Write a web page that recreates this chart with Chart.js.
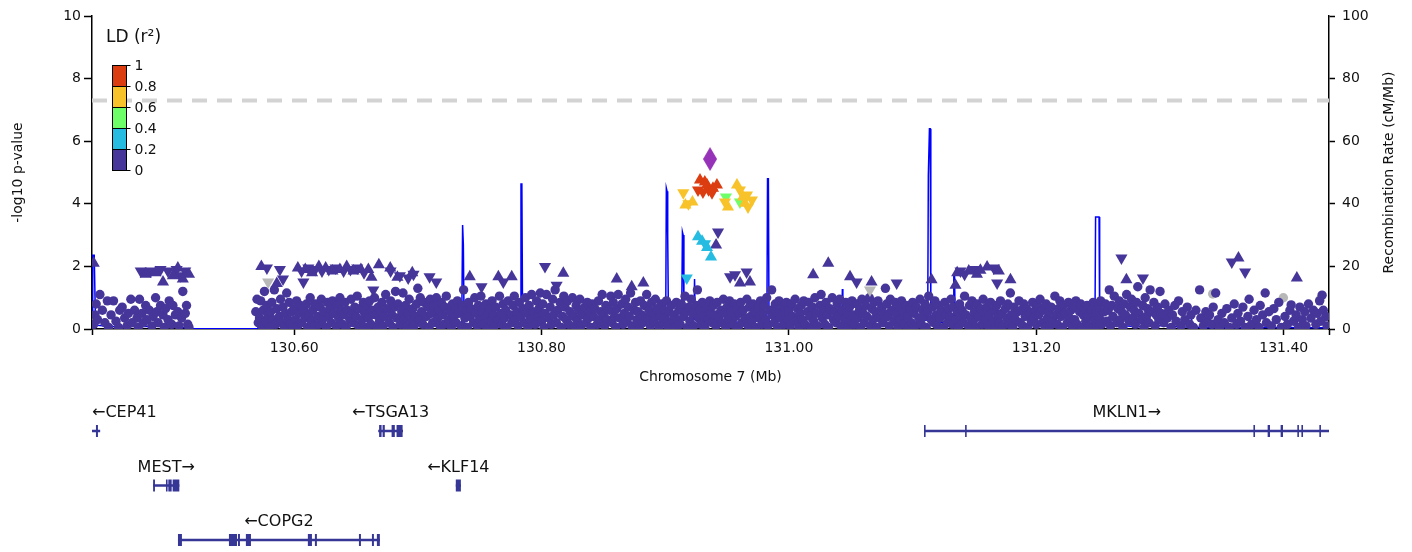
<!DOCTYPE html>
<html>
<head>
<meta charset="utf-8">
<script src="https://cdn.jsdelivr.net/npm/chart.js@4.4.1/dist/chart.umd.min.js"></script>
<style>
  body { margin: 0; background: #fff; }
</style>
</head>
<body>
<canvas id="graficaLocus" width="1412" height="552"></canvas>
<script>
var colorLd = ['#463699', '#26bce1', '#6efe68', '#f8c32a', '#db3d11'];
var colorLead = '#9632b8';
var colorNoLd = '#b8b8b8';
var colorGene = '#363696';
var colorText = '#111';

var xMin = 130.4366;
var xMax = 131.4366;
var xTickValues = [130.60, 130.80, 131.00, 131.20, 131.40];
var ldBreaks = [0, 0.2, 0.4, 0.6, 0.8, 1];
var sigLine = 7.301;

// recombination rate (cM/Mb)
var recombPos = [
  130.4366, 130.4372, 130.4384, 130.4394, 130.4410, 130.4500, 130.4600, 130.4700, 130.4800, 130.4900,
  130.5000, 130.5100, 130.5145, 130.5155, 130.5700, 130.5720, 130.5800, 130.5900, 130.6000, 130.6100,
  130.6200, 130.6300, 130.6400, 130.6500, 130.6600, 130.6700, 130.6800, 130.6900, 130.7000, 130.7100,
  130.7200, 130.7300, 130.7355, 130.7362, 130.7368, 130.7374, 130.7500, 130.7600, 130.7700, 130.7780,
  130.7829, 130.7834, 130.7841, 130.7847, 130.7900, 130.8000, 130.8100, 130.8200, 130.8300, 130.8400,
  130.8500, 130.8600, 130.8700, 130.8800, 130.8900, 130.8990, 130.9004, 130.9009, 130.9015, 130.9020,
  130.9026, 130.9060, 130.9100, 130.9133, 130.9139, 130.9145, 130.9151, 130.9200, 130.9232, 130.9237,
  130.9243, 130.9300, 130.9400, 130.9500, 130.9600, 130.9700, 130.9790, 130.9822, 130.9827, 130.9834,
  130.9839, 130.9900, 131.0000, 131.0100, 131.0200, 131.0300, 131.0400, 131.0428, 131.0432, 131.0436,
  131.0500, 131.0600, 131.0700, 131.0800, 131.0900, 131.0995, 131.1010, 131.1080, 131.1122, 131.1127,
  131.1132, 131.1136, 131.1142, 131.1147, 131.1200, 131.1300, 131.1328, 131.1333, 131.1339, 131.1344,
  131.1400, 131.1500, 131.1600, 131.1700, 131.1800, 131.1900, 131.2000, 131.2070, 131.2076, 131.2082,
  131.2150, 131.2265, 131.2270, 131.2275, 131.2350, 131.2450, 131.2474, 131.2479, 131.2507, 131.2512,
  131.2560, 131.2596, 131.2600, 131.2604, 131.2700, 131.2800, 131.2900, 131.3000, 131.3100, 131.3200,
  131.3251, 131.3255, 131.3259, 131.3400, 131.3600, 131.3800, 131.3868, 131.3872, 131.3876, 131.4000,
  131.4200, 131.4366
];
var recombRate = [
  5, 23.6, 23.6, 2.5, 1.2, 0.9, 0.7, 1.0, 0.8, 1.1,
  0.7, 0.5, 0.4, 0.05, 0.05, 0.8, 1.3, 1.0, 1.2, 0.9,
  1.1, 1.3, 0.9, 1.0, 0.8, 1.1, 0.9, 1.2, 1.0, 0.8,
  1.1, 0.9, 1.5, 33.2, 27, 1.8, 1.2, 1.0, 1.3, 1.1,
  2, 46.3, 46.3, 2, 1.1, 1.3, 1.0, 1.4, 1.2, 1.6,
  1.3, 1.5, 1.8, 1.6, 2.0, 2.2, 3, 45, 44, 30,
  3, 2.5, 2.8, 3, 31, 30, 4, 3, 3, 16,
  3, 2.5, 2.2, 2.0, 2.2, 2.4, 2.6, 3, 48, 48,
  2.5, 1.8, 1.5, 1.2, 1.0, 1.3, 1.6, 1.2, 12.8, 1.2,
  1.4, 1.6, 1.3, 1.8, 2.0, 2.2, 0.8, 2.5, 3, 49,
  49, 64, 64, 3, 2.2, 2.0, 2.2, 17, 17, 2.2,
  1.8, 1.5, 1.2, 1.0, 1.3, 1.1, 1.4, 1.2, 3.5, 1.2,
  1.0, 1.0, 1.8, 1.0, 1.2, 1.5, 2, 35.8, 35.8, 2,
  1.5, 1.2, 5.5, 1.2, 1.0, 0.8, 0.9, 1.1, 0.8, 0.6,
  0.8, 3.5, 0.6, 0.4, 0.4, 0.5, 0.5, 1.2, 0.5, 0.5,
  0.4, 0.4
];

// [position Mb, -log10 p]  r2 < 0.2, circles
var snpCircle = [
  [130.438,0.15],[130.439,0.45],[130.440,0.8],[130.441,0.3],[130.443,1.1],[130.445,0.6],[130.447,0.2],[130.449,0.9],[130.450,0.05],[130.452,0.45],
  [130.454,0.9],[130.456,0.25],[130.458,0.05],[130.459,0.6],[130.461,0.7],[130.463,0.35],[130.465,0.1],[130.466,0.5],[130.468,0.95],[130.469,0.2],
  [130.471,0.6],[130.473,0.35],[130.474,0.05],[130.475,0.95],[130.477,0.5],[130.478,0.2],[130.480,0.75],[130.481,0.3],[130.483,0.6],[130.485,0.1],
  [130.486,0.4],[130.488,1.0],[130.489,0.55],[130.490,0.2],[130.492,0.75],[130.494,0.45],[130.495,0.05],[130.496,0.65],[130.498,0.3],[130.499,0.9],
  [130.501,0.15],[130.502,0.75],[130.504,0.45],[130.506,0.55],[130.507,0.1],[130.509,0.35],[130.510,1.2],[130.512,0.5],[130.513,0.75],[130.514,0.15],
  [130.515,0.05],
  [130.569,0.55],[130.570,0.95],[130.571,0.2],[130.572,0.35],[130.573,0.9],[130.574,0.1],[130.575,0.6],[130.576,1.2],[130.577,0.25],[130.578,0.75],
  [130.579,0.45],[130.580,0.05],[130.581,0.55],[130.582,0.85],[130.583,0.3],[130.584,1.25],[130.585,0.15],[130.586,0.65],[130.588,0.4],[130.589,0.95],
  [130.590,0.2],[130.591,0.7],[130.592,0.05],[130.593,0.5],[130.594,1.15],[130.595,0.3],[130.596,0.85],[130.597,0.15],[130.598,0.55],[130.599,0.05],
  [130.600,0.65],[130.601,0.3],[130.602,0.9],[130.603,0.1],[130.604,0.5],[130.605,0.75],[130.606,0.2],[130.608,0.6],[130.609,0.35],
  [130.610,0.8],[130.611,0.05],[130.612,0.45],[130.613,1.0],[130.614,0.25],[130.615,0.6],[130.616,0.1],[130.617,0.8],[130.619,0.4],
  [130.620,0.15],[130.621,0.7],[130.622,0.95],[130.623,0.3],[130.624,0.55],[130.626,0.05],[130.627,0.85],[130.628,0.4],[130.629,0.65],
  [130.630,0.2],[130.631,0.9],[130.632,0.5],[130.634,0.1],[130.635,0.75],[130.636,0.35],[130.637,1.0],[130.638,0.6],[130.639,0.15],
  [130.640,0.45],[130.641,0.85],[130.642,0.05],[130.643,0.6],[130.645,0.3],[130.646,0.95],[130.647,0.5],[130.648,0.2],[130.649,0.7],
  [130.650,0.4],[130.651,1.05],[130.652,0.1],[130.653,0.65],[130.655,0.3],[130.656,0.85],[130.657,0.5],[130.658,0.05],[130.659,0.75],
  [130.660,0.35],[130.661,0.9],[130.662,0.15],[130.663,0.6],[130.665,1.0],[130.666,0.45],[130.667,0.05],[130.668,0.7],[130.669,0.25],
  [130.670,0.55],[130.671,0.85],[130.672,0.1],[130.673,0.4],[130.674,1.1],[130.675,0.65],[130.677,0.2],[130.678,0.9],[130.679,0.45],
  [130.680,0.05],[130.681,0.7],[130.682,1.2],[130.683,0.35],[130.684,0.8],[130.686,0.15],[130.687,0.55],[130.688,1.15],[130.689,0.3],
  [130.690,0.75],[130.691,0.05],[130.692,0.5],[130.693,0.95],[130.695,0.25],[130.696,0.65],[130.697,0.1],[130.698,0.4],[130.699,0.8],
  [130.700,1.3],[130.701,0.3],[130.702,1.0],[130.703,0.55],[130.704,0.15],[130.705,0.85],[130.707,0.4],[130.708,0.7],[130.709,0.05],
  [130.710,0.95],[130.711,0.5],[130.712,0.2],[130.713,0.75],[130.715,1.0],[130.716,0.35],[130.717,0.6],[130.718,0.1],[130.719,0.85],
  [130.720,0.45],[130.721,0.15],[130.722,0.7],[130.723,1.05],[130.725,0.3],[130.726,0.55],[130.727,0.05],[130.728,0.8],[130.729,0.4],
  [130.730,0.65],[130.731,0.2],[130.732,0.9],[130.733,0.5],[130.735,0.1],[130.736,0.75],[130.737,1.25],[130.738,0.35],[130.739,0.6],
  [130.740,0.05],[130.741,0.85],[130.742,0.4],[130.743,0.65],[130.745,0.2],[130.746,1.0],[130.747,0.5],[130.748,0.1],[130.749,0.75],
  [130.750,0.3],[130.751,1.05],[130.752,0.55],[130.753,0.15],[130.755,0.8],[130.756,0.4],[130.757,0.05],[130.758,0.65],[130.759,0.25],
  [130.760,0.9],[130.761,0.45],[130.762,0.1],[130.763,0.7],[130.765,0.3],[130.766,1.05],[130.767,0.5],[130.768,0.15],[130.769,0.8],
  [130.770,0.35],[130.771,0.6],[130.772,0.05],[130.773,0.9],[130.775,0.45],[130.776,0.2],[130.777,0.75],[130.778,1.05],[130.779,0.3],
  [130.780,0.55],[130.781,0.1],[130.782,0.85],[130.783,0.4],[130.785,0.65],[130.786,0.2],[130.787,1.0],[130.788,0.5],[130.789,0.05],
  [130.790,0.75],[130.791,0.3],[130.792,1.1],[130.793,0.55],[130.795,0.15],[130.796,0.9],[130.797,0.4],[130.798,0.65],[130.799,1.15],
  [130.800,0.25],[130.801,0.8],[130.802,0.05],[130.803,0.5],[130.804,1.1],[130.806,0.35],[130.807,0.7],[130.808,0.15],[130.809,0.95],
  [130.810,0.45],[130.811,1.25],[130.812,0.2],[130.813,0.6],[130.815,0.85],[130.816,0.05],[130.817,0.4],[130.818,1.05],[130.819,0.7],
  [130.820,0.3],[130.821,0.9],[130.822,0.15],[130.823,0.55],[130.825,1.0],[130.826,0.4],[130.827,0.05],[130.828,0.75],[130.829,0.25],
  [130.830,0.6],[130.831,0.95],[130.832,0.1],[130.833,0.45],[130.835,0.7],[130.836,0.2],[130.837,0.85],[130.838,0.35],[130.839,0.55],
  [130.840,0.05],[130.841,0.8],[130.842,0.4],[130.843,0.65],[130.845,0.15],[130.846,0.9],[130.847,0.3],[130.848,0.55],[130.849,1.1],
  [130.850,0.45],[130.851,0.1],[130.852,0.75],[130.853,0.3],[130.855,0.6],[130.856,1.05],[130.857,0.2],[130.858,0.85],[130.859,0.4],
  [130.860,0.05],[130.861,0.65],[130.862,1.1],[130.863,0.35],[130.865,0.8],[130.866,0.15],[130.867,0.5],[130.868,0.95],[130.869,0.25],
  [130.870,0.7],[130.871,0.4],[130.872,1.15],[130.873,0.1],[130.875,0.6],[130.876,0.85],[130.877,0.3],[130.878,0.55],[130.879,0.05],
  [130.880,0.9],[130.881,0.45],[130.882,0.2],[130.883,0.75],[130.885,1.1],[130.886,0.35],[130.887,0.6],[130.888,0.1],[130.889,0.85],
  [130.890,0.5],[130.891,0.25],[130.892,0.95],[130.893,0.65],[130.895,0.05],[130.896,0.4],[130.897,0.8],[130.898,0.2],[130.899,0.6],
  [130.900,0.35],[130.901,0.9],[130.902,0.1],[130.903,0.55],[130.905,0.75],[130.906,0.25],[130.907,0.45],[130.908,0.05],[130.909,0.85],
  [130.910,0.3],[130.911,0.6],[130.912,0.15],[130.913,0.8],[130.915,0.4],[130.916,1.05],[130.917,0.55],[130.918,0.05],[130.919,0.7],
  [130.920,0.25],[130.921,0.95],[130.922,0.5],[130.923,0.1],[130.925,0.75],[130.926,1.25],[130.927,0.35],[130.928,0.6],[130.929,0.15],
  [130.930,0.85],[130.931,0.4],[130.932,0.05],[130.933,0.65],[130.935,0.3],[130.936,0.9],[130.937,0.5],[130.938,0.2],[130.939,0.75],
  [130.940,0.45],[130.941,0.1],[130.942,0.85],[130.943,0.35],[130.945,0.6],[130.946,0.2],[130.947,0.95],[130.948,0.5],[130.949,0.05],
  [130.950,0.7],[130.951,0.3],[130.952,0.9],[130.953,0.55],[130.955,0.15],[130.956,0.8],[130.957,0.4],[130.958,0.65],[130.959,0.05],
  [130.960,0.5],[130.961,0.85],[130.962,0.2],[130.963,0.6],[130.965,0.35],[130.966,0.95],[130.967,0.1],[130.968,0.7],[130.969,0.4],
  [130.970,0.25],[130.971,0.8],[130.972,0.55],[130.973,0.05],[130.975,0.65],[130.976,0.35],[130.977,0.9],[130.978,0.15],[130.979,0.5],
  [130.980,0.75],[130.981,0.3],[130.982,1.0],[130.983,0.1],[130.985,0.6],[130.986,1.25],[130.987,0.45],[130.988,0.2],[130.989,0.8],
  [130.990,0.55],[130.991,0.05],[130.992,0.9],[130.993,0.35],[130.995,0.7],[130.996,0.15],[130.997,0.5],[130.998,0.85],[130.999,0.3],
  [131.000,0.6],[131.001,0.1],[131.002,0.8],[131.003,0.4],[131.005,0.95],[131.006,0.25],[131.007,0.65],[131.008,0.05],[131.009,0.5],
  [131.010,0.75],[131.011,0.3],[131.012,0.9],[131.013,0.15],[131.015,0.55],[131.016,0.85],[131.017,0.4],[131.018,0.05],[131.019,0.7],
  [131.020,0.25],[131.021,1.0],[131.022,0.5],[131.023,0.1],[131.025,0.75],[131.026,1.1],[131.027,0.35],[131.028,0.6],[131.029,0.15],
  [131.030,0.85],[131.031,0.45],[131.032,0.05],[131.033,0.65],[131.035,1.0],[131.036,0.3],[131.037,0.55],[131.038,0.2],[131.039,0.8],
  [131.040,0.4],[131.041,0.95],[131.042,0.1],[131.043,0.6],[131.045,0.3],[131.046,0.85],[131.047,0.5],[131.048,0.05],[131.049,0.7],
  [131.050,0.25],[131.051,0.9],[131.052,0.45],[131.053,0.15],[131.055,0.8],[131.056,0.35],[131.057,0.6],[131.058,0.05],[131.059,0.95],
  [131.060,0.5],[131.061,0.2],[131.062,0.75],[131.063,0.4],[131.065,1.0],[131.066,0.1],[131.067,0.65],[131.068,0.3],[131.069,0.85],
  [131.070,0.55],[131.071,0.05],[131.072,0.9],[131.073,0.35],[131.075,0.7],[131.076,0.2],[131.077,0.5],[131.078,1.3],[131.079,0.8],
  [131.080,0.4],[131.081,0.1],[131.082,0.95],[131.083,0.6],[131.085,0.25],[131.086,0.85],[131.087,0.45],[131.088,0.05],[131.089,0.7],
  [131.090,0.3],[131.091,0.9],[131.092,0.55],[131.093,0.15],[131.095,0.75],[131.096,0.4],[131.097,0.05],[131.098,0.65],[131.099,0.2],
  [131.100,0.85],[131.101,0.5],[131.102,0.1],[131.103,0.7],[131.105,0.35],[131.106,0.95],[131.107,0.15],[131.108,0.6],[131.109,0.4],
  [131.110,0.8],[131.111,0.05],[131.112,0.55],[131.113,1.05],[131.115,0.3],[131.116,0.7],[131.117,0.2],[131.118,0.9],[131.119,0.45],
  [131.120,0.1],[131.121,0.75],[131.122,0.35],[131.123,0.6],[131.125,0.05],[131.126,0.85],[131.127,0.45],[131.128,0.2],[131.129,0.65],
  [131.130,0.4],[131.131,0.95],[131.132,0.15],[131.133,0.7],[131.135,0.3],[131.136,0.55],[131.137,0.05],[131.138,0.8],[131.139,0.4],
  [131.140,0.6],[131.141,0.2],[131.142,1.05],[131.143,0.45],[131.145,0.1],[131.146,0.75],[131.147,0.35],[131.148,0.9],[131.149,0.25],
  [131.150,0.55],[131.151,0.05],[131.152,0.8],[131.153,0.4],[131.155,0.65],[131.156,0.15],[131.157,0.95],[131.158,0.5],[131.159,0.3],
  [131.160,0.7],[131.161,0.1],[131.162,0.45],[131.163,0.85],[131.165,0.25],[131.166,0.6],[131.167,0.05],[131.168,0.75],[131.169,0.4],
  [131.170,0.2],[131.171,0.9],[131.172,0.5],[131.173,0.1],[131.175,0.65],[131.176,0.35],[131.177,0.8],[131.178,0.15],[131.179,1.15],
  [131.180,0.45],[131.181,0.05],[131.182,0.7],[131.183,0.3],[131.185,0.55],[131.186,0.9],[131.187,0.2],[131.188,0.6],[131.189,0.1],
  [131.190,0.8],[131.191,0.4],[131.192,0.65],[131.193,0.05],[131.195,0.5],[131.196,0.25],[131.197,0.85],[131.198,0.35],[131.199,0.6],
  [131.200,0.15],[131.201,0.75],[131.202,0.45],[131.203,0.95],[131.205,0.2],[131.206,0.6],[131.207,0.05],[131.208,0.8],[131.209,0.35],
  [131.210,0.55],[131.211,0.1],[131.212,0.7],[131.213,0.3],[131.215,1.05],[131.216,0.45],[131.217,0.15],[131.218,0.65],[131.219,0.9],
  [131.220,0.4],[131.221,0.05],[131.222,0.75],[131.223,0.5],[131.225,0.2],[131.226,0.85],[131.227,0.35],[131.228,0.6],[131.229,0.1],
  [131.230,0.7],[131.231,0.3],[131.232,0.9],[131.233,0.15],[131.235,0.55],[131.236,0.8],[131.237,0.05],[131.238,0.45],[131.239,0.65],
  [131.240,0.25],[131.241,0.75],[131.242,0.4],[131.243,0.1],[131.245,0.6],[131.246,0.85],[131.247,0.3],[131.248,0.5],[131.249,0.05],
  [131.250,0.7],[131.251,0.35],[131.252,0.9],[131.253,0.15],[131.255,0.55],[131.256,0.8],[131.257,0.25],[131.258,0.6],[131.259,1.25],
  [131.260,0.1],[131.261,0.75],[131.262,0.4],[131.263,1.05],[131.265,0.2],[131.266,0.65],[131.267,0.9],[131.268,0.3],[131.269,0.55],
  [131.270,0.05],[131.271,0.8],[131.272,0.45],[131.273,1.1],[131.275,0.25],[131.276,0.7],[131.277,0.95],[131.278,0.35],[131.279,0.6],
  [131.280,0.15],[131.281,0.85],[131.282,1.35],[131.283,0.5],[131.285,0.3],[131.286,0.75],[131.287,0.05],[131.288,1.0],[131.289,0.4],
  [131.290,0.65],[131.291,0.2],[131.292,1.25],[131.293,0.55],[131.295,0.85],[131.296,0.1],[131.297,0.45],[131.298,0.7],[131.299,0.3],
  [131.300,1.2],[131.301,0.5],[131.303,0.2],[131.304,0.8],[131.306,0.35],[131.307,0.6],[131.309,0.05],
  [131.310,0.45],[131.312,0.75],[131.313,0.25],[131.315,0.9],[131.317,0.1],[131.318,0.55],
  [131.320,0.3],[131.322,0.7],[131.324,0.15],[131.325,0.45],[131.327,0.05],[131.329,0.6],
  [131.332,1.25],[131.333,0.35],[131.335,0.1],[131.337,0.55],[131.338,0.25],
  [131.340,0.45],[131.342,0.15],[131.343,0.7],[131.345,1.15],[131.347,0.3],[131.348,0.05],
  [131.350,0.5],[131.352,0.2],[131.354,0.65],[131.356,0.05],[131.358,0.35],
  [131.360,0.8],[131.362,0.15],[131.363,0.5],[131.365,0.25],[131.367,0.7],[131.369,0.05],
  [131.371,0.4],[131.372,0.95],[131.374,0.15],[131.376,0.6],[131.378,0.3],
  [131.380,0.05],[131.381,0.75],[131.383,0.45],[131.385,1.15],[131.386,0.2],[131.388,0.55],
  [131.390,0.1],[131.392,0.65],[131.394,0.3],[131.396,0.85],[131.398,0.05],
  [131.401,0.4],[131.403,0.15],[131.405,0.6],[131.406,0.77],[131.408,0.25],
  [131.410,0.45],[131.412,0.05],[131.413,0.7],[131.415,0.3],[131.417,0.55],[131.418,0.1],
  [131.420,0.8],[131.422,0.35],[131.424,0.6],[131.426,0.15],[131.427,0.5],[131.429,0.9],
  [131.430,0.25],[131.431,1.08],[131.432,0.6],[131.434,0.4],[131.435,0.1]
];
var snpCircleGray = [[130.5790,0.65],[130.5775,0.4],[130.5910,0.4],[130.9516,0.67],[131.3426,1.12],[131.3997,1.0],[131.4293,0.93]];

// p < 0.05, triangles (up / down by effect direction)
var snpUpNavy = [
  [130.438,2.1],[130.480,1.75],[130.488,1.8],[130.494,1.5],[130.502,1.7],[130.506,1.95],[130.510,1.6],[130.515,1.75],
  [130.5735,2.0],[130.586,1.45],
  [130.603,1.95],[130.609,1.9],[130.6145,1.8],[130.620,2.0],[130.6255,1.95],[130.631,1.85],[130.637,1.9],[130.6425,2.0],
  [130.648,1.85],[130.654,1.9],[130.660,1.9],[130.6625,1.65],[130.6685,2.05],[130.6777,1.95],[130.6835,1.65],
  [130.6955,1.8],[130.7420,1.67],[130.7651,1.67],[130.7759,1.67],[130.8176,1.78],[130.8608,1.6],[130.8729,1.35],[130.8823,1.47],
  [130.9411,2.68],[130.9605,1.47],[130.9685,1.5],
  [131.0196,1.73],[131.0318,2.1],[131.0494,1.67],[131.0668,1.5],[131.1153,1.57],
  [131.1346,1.4],[131.1360,1.8],[131.1454,1.85],[131.1520,1.75],[131.1548,1.88],[131.1602,1.98],[131.1697,1.85],[131.1791,1.57],
  [131.2728,1.57],[131.3634,2.27],[131.4106,1.63]
];
var snpDownNavy = [
  [130.476,1.85],[130.484,1.85],[130.492,1.9],[130.498,1.85],[130.505,1.9],[130.508,1.7],[130.512,1.85],
  [130.578,1.95],[130.5885,1.9],[130.591,1.6],
  [130.606,1.85],[130.6075,1.5],[130.6115,1.95],[130.617,1.9],[130.6225,1.85],[130.628,1.9],[130.6335,1.95],[130.640,1.85],
  [130.6455,1.9],[130.651,1.95],[130.6565,1.8],[130.664,1.25],[130.678,1.85],[130.6855,1.7],
  [130.6922,1.63],[130.6965,1.75],[130.7095,1.67],[130.7149,1.5],[130.7515,1.35],[130.7691,1.5],[130.8028,2.0],[130.8122,1.4],
  [130.9427,3.1],[130.9524,1.67],[130.9564,1.73],[130.9658,1.82],
  [131.0547,1.5],[131.0871,1.47],
  [131.1387,1.85],[131.1420,1.75],[131.1494,1.9],[131.1656,1.95],[131.1683,1.47],
  [131.2688,2.27],[131.2862,1.63],[131.3580,2.14],[131.3688,1.82]
];
var snpDownGray = [[130.5790,1.5],[131.0655,1.25]];
var snpUpCyan = [[130.9265,2.95],[130.9298,2.8],[130.9338,2.6],[130.9370,2.3]];
var snpDownCyan = [[130.9322,2.72],[130.9174,1.63]];
var snpDownGreen = [[130.9491,4.22],[130.9604,4.06]];
var snpUpOrange = [[130.9163,3.96],[130.9220,4.06],[130.9580,4.6],[130.9628,4.22],[130.9507,3.9],[130.9644,4.02]];
var snpDownOrange = [[130.9146,4.35],[130.9187,4.0],[130.9604,4.44],[130.9661,4.28],[130.9701,4.12],[130.9483,4.06],[130.9669,3.9]];
var snpUpRed = [[130.9281,4.76],[130.9320,4.7],[130.9338,4.6],[130.9386,4.5],[130.9418,4.6]];
var snpDownRed = [[130.9265,4.44],[130.9305,4.38],[130.9350,4.45],[130.9378,4.35]];
var leadSnp = [[130.9362,5.43]];

// genes
var geneNames = ['CEP41', 'MEST', 'COPG2', 'TSGA13', 'KLF14', 'MKLN1'];
var geneStart = [130.3938, 130.4860, 130.5061, 130.6680, 130.7307, 131.1097];
var geneEnd = [130.4432, 130.5072, 130.6693, 130.6880, 130.7348, 131.4970];
var geneStrand = ['-', '+', '-', '-', '-', '+'];
var geneRow = [0, 1, 2, 0, 1, 0];
var geneExons = [
  [[130.4398,130.4414]],
  [[130.4860,130.4875],[130.4964,130.4975],[130.4983,130.5010],[130.5018,130.5072]],
  [[130.5061,130.5093],[130.5473,130.5538],[130.5546,130.5562],[130.5610,130.5651],[130.6111,130.6144],
   [130.6168,130.6184],[130.6524,130.6540],[130.6629,130.6645],[130.6669,130.6693]],
  [[130.6687,130.6707],[130.6715,130.6733],[130.6788,130.6814],[130.6828,130.6877]],
  [[130.7307,130.7348]],
  [[131.1092,131.1104],[131.1424,131.1436],[131.3755,131.3767],[131.3870,131.3889],[131.3975,131.3994],
   [131.4110,131.4122],[131.4143,131.4155],[131.4288,131.4300]]
];

var fuente = '"DejaVu Sans", Verdana, sans-serif';
Chart.defaults.font.family = fuente;
Chart.defaults.font.size = 14;
Chart.defaults.color = colorText;

function toPoints(lista) {
  return lista.map(function (p) { return { x: p[0], y: p[1] }; });
}

// elongated diamond for the lead variant
var diamante = document.createElement('canvas');
diamante.width = 14;
diamante.height = 24;
(function () {
  var c = diamante.getContext('2d');
  c.fillStyle = colorLead;
  c.beginPath();
  c.moveTo(7, 0);
  c.lineTo(14, 12);
  c.lineTo(7, 24);
  c.lineTo(0, 12);
  c.closePath();
  c.fill();
})();

function snpSet(lista, color, estilo, giro, radio, orden) {
  return {
    type: 'scatter',
    data: toPoints(lista),
    yAxisID: 'y',
    backgroundColor: color,
    borderWidth: 0,
    pointStyle: estilo,
    pointRotation: giro,
    pointRadius: radio,
    pointHoverRadius: radio,
    clip: 0,
    order: orden
  };
}

var datasets = [
  {
    type: 'line',
    data: [{ x: xMin, y: sigLine }, { x: xMax, y: sigLine }],
    yAxisID: 'y',
    borderColor: '#d3d3d3',
    borderWidth: 4,
    borderDash: [15, 10],
    pointRadius: 0,
    order: 30
  },
  {
    type: 'line',
    data: recombPos.map(function (p, i) { return { x: p, y: recombRate[i] }; }),
    yAxisID: 'y2',
    borderColor: '#0000ff',
    borderWidth: 1.5,
    pointRadius: 0,
    tension: 0,
    clip: 0,
    order: 20
  },
  snpSet(snpCircleGray, colorNoLd, 'circle', 0, 4.7, 11),
  snpSet(snpCircle, colorLd[0], 'circle', 0, 4.7, 10),
  snpSet(snpDownGray, colorNoLd, 'triangle', 180, 7, 9),
  snpSet(snpUpNavy, colorLd[0], 'triangle', 0, 7, 8),
  snpSet(snpDownNavy, colorLd[0], 'triangle', 180, 7, 8),
  snpSet(snpUpCyan, colorLd[1], 'triangle', 0, 7, 6),
  snpSet(snpDownCyan, colorLd[1], 'triangle', 180, 7, 6),
  snpSet(snpDownGreen, colorLd[2], 'triangle', 180, 7, 5),
  snpSet(snpUpOrange, colorLd[3], 'triangle', 0, 7, 4),
  snpSet(snpDownOrange, colorLd[3], 'triangle', 180, 7, 4),
  snpSet(snpUpRed, colorLd[4], 'triangle', 0, 7, 3),
  snpSet(snpDownRed, colorLd[4], 'triangle', 180, 7, 3),
  snpSet(leadSnp, colorLead, diamante, 0, 12, 1)
];

// LD colour key in the upper left corner
var leyendaLd = {
  id: 'leyendaLd',
  afterDraw: function (chart) {
    var ctx = chart.ctx;
    var left = 112.5, top = 65.5, ancho = 14, alto = 21;
    var n = colorLd.length;
    ctx.save();
    ctx.fillStyle = colorText;
    ctx.font = '17px ' + fuente;
    ctx.textBaseline = 'alphabetic';
    ctx.textAlign = 'left';
    ctx.fillText('LD (r²)', 106, 42);
    ctx.strokeStyle = '#000';
    ctx.lineWidth = 1;
    for (var i = 0; i < n; i++) {
      var y = top + (n - 1 - i) * alto;
      ctx.fillStyle = colorLd[i];
      ctx.fillRect(left, y, ancho, alto);
      ctx.strokeRect(left, y, ancho, alto);
    }
    ctx.font = '14px ' + fuente;
    ctx.textBaseline = 'middle';
    ctx.fillStyle = colorText;
    for (var j = 0; j < ldBreaks.length; j++) {
      var ty = top + (ldBreaks.length - 1 - j) * alto;
      ctx.beginPath();
      ctx.moveTo(left + ancho, ty);
      ctx.lineTo(left + ancho + 4, ty);
      ctx.stroke();
      ctx.fillText(String(ldBreaks[j]), left + ancho + 8, ty + 1);
    }
    ctx.restore();
  }
};

// right axis title reads bottom to top, like the left one
var tituloDerecho = {
  id: 'tituloDerecho',
  afterDraw: function (chart) {
    var ctx = chart.ctx;
    var area = chart.chartArea;
    ctx.save();
    ctx.translate(1389, (area.top + area.bottom) / 2);
    ctx.rotate(-Math.PI / 2);
    ctx.font = '14px ' + fuente;
    ctx.fillStyle = colorText;
    ctx.textAlign = 'center';
    ctx.textBaseline = 'middle';
    ctx.fillText('Recombination Rate (cM/Mb)', 0, 0);
    ctx.restore();
  }
};

// gene track under the x axis, placed with the x scale
var pistaGenes = {
  id: 'pistaGenes',
  afterDraw: function (chart) {
    var ctx = chart.ctx;
    var xs = chart.scales.x;
    var area = chart.chartArea;
    ctx.save();
    ctx.beginPath();
    ctx.rect(area.left, 390, area.right - area.left, 162);
    ctx.clip();
    ctx.strokeStyle = colorGene;
    ctx.fillStyle = colorGene;
    ctx.lineWidth = 2.5;
    for (var i = 0; i < geneNames.length; i++) {
      var filaY = 431 + geneRow[i] * 54.5;
      var x1 = xs.getPixelForValue(geneStart[i]);
      var x2 = xs.getPixelForValue(geneEnd[i]);
      ctx.beginPath();
      ctx.moveTo(x1, filaY);
      ctx.lineTo(x2, filaY);
      ctx.stroke();
      geneExons[i].forEach(function (ex) {
        var e1 = xs.getPixelForValue(ex[0]);
        var e2 = xs.getPixelForValue(ex[1]);
        ctx.fillRect(e1, filaY - 6, Math.max(e2 - e1, 1.6), 12);
      });
    }
    ctx.restore();

    ctx.save();
    ctx.font = '16px ' + fuente;
    ctx.fillStyle = colorText;
    ctx.textAlign = 'center';
    ctx.textBaseline = 'middle';
    for (var k = 0; k < geneNames.length; k++) {
      var fy = 431 + geneRow[k] * 54.5;
      var v1 = Math.max(xs.getPixelForValue(geneStart[k]), area.left);
      var v2 = Math.min(xs.getPixelForValue(geneEnd[k]), area.right);
      var texto = geneStrand[k] === '-' ? '←' + geneNames[k] : geneNames[k] + '→';
      var w = ctx.measureText(texto).width;
      var cx = (v1 + v2) / 2;
      cx = Math.max(cx, area.left + w / 2);
      cx = Math.min(cx, area.right - w / 2);
      ctx.fillText(texto, cx, fy - 18);
    }
    ctx.restore();
  }
};

var configuracion = {
  type: 'scatter',
  data: { datasets: datasets },
  options: {
    responsive: false,
    animation: false,
    events: [],
    layout: { padding: { top: 16, left: 0, right: 0, bottom: 0 } },
    plugins: {
      legend: { display: false },
      tooltip: { enabled: false }
    },
    scales: {
      x: {
        type: 'linear',
        position: 'bottom',
        min: xMin,
        max: xMax,
        afterBuildTicks: function (scale) {
          scale.ticks = [xMin].concat(xTickValues, [xMax]).map(function (v) { return { value: v }; });
        },
        afterFit: function (scale) { scale.height = 223; },
        ticks: {
          autoSkip: false,
          maxRotation: 0,
          padding: 5,
          color: colorText,
          callback: function (value) {
            return xTickValues.indexOf(value) >= 0 ? value.toFixed(2) : '';
          }
        },
        grid: { drawOnChartArea: false, drawTicks: true, tickLength: 6, color: '#000', tickWidth: 1.5 },
        border: { display: true, color: '#000', width: 1.5 },
        title: {
          display: true,
          text: 'Chromosome 7 (Mb)',
          color: colorText,
          font: { size: 14 },
          padding: { top: 0, bottom: 166.6 }
        }
      },
      y: {
        position: 'left',
        min: 0,
        max: 10,
        afterFit: function (scale) { scale.width = 92; },
        ticks: { stepSize: 2, padding: 3, color: colorText },
        grid: { drawOnChartArea: false, tickLength: 8, color: '#000', tickWidth: 1.5 },
        border: { display: true, color: '#000', width: 1.5 },
        title: {
          display: true,
          text: '-log10 p-value',
          color: colorText,
          font: { size: 14 },
          padding: { top: 9.6, bottom: 0 }
        }
      },
      y2: {
        position: 'right',
        min: 0,
        max: 100,
        afterFit: function (scale) { scale.width = 83; },
        ticks: { stepSize: 20, padding: 7, color: colorText },
        grid: { drawOnChartArea: false, tickLength: 6, color: '#000', tickWidth: 1.5 },
        border: { display: true, color: '#000', width: 1.5 }
      }
    }
  },
  plugins: [leyendaLd, tituloDerecho, pistaGenes]
};

var graficaLocus = new Chart(document.getElementById('graficaLocus'), configuracion);
</script>
</body>
</html>
